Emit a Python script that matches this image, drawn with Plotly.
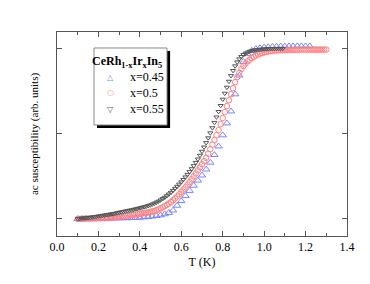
import plotly.graph_objects as go

# x = 0.55 (black, down triangles)
T_055 = [0.10,0.11,0.12,0.13,0.14,0.15,0.16,0.17,0.18,0.19,
         0.20,0.21,0.22,0.23,0.24,0.25,0.26,0.27,0.28,0.29,
         0.30,0.31,0.32,0.33,0.34,0.35,0.36,0.37,0.38,0.39,
         0.40,0.41,0.42,0.43,0.44,0.45,0.46,0.47,0.48,0.49,
         0.50,0.51,0.52,0.53,0.54,0.55,0.56,0.57,0.58,0.59,
         0.60,0.61,0.62,0.63,0.64,0.65,0.66,0.67,0.68,0.69,
         0.70,0.71,0.72,0.73,0.74,0.75,0.76,0.77,0.78,0.79,
         0.80,0.81,0.82,0.83,0.84,0.85,0.86,0.87,0.88,0.89,
         0.90,0.91,0.92,0.93,0.94,0.95,0.96,0.97,0.98,0.99,
         1.00,1.01,1.02,1.03,1.04,1.05,1.06,1.07,1.08,1.09]
chi_055 = [0.000,0.002,0.004,0.005,0.006,0.007,0.008,0.010,0.012,0.014,
           0.016,0.018,0.020,0.022,0.024,0.026,0.028,0.030,0.032,0.035,
           0.038,0.040,0.043,0.045,0.047,0.050,0.052,0.055,0.058,0.061,
           0.064,0.067,0.070,0.073,0.077,0.081,0.086,0.091,0.097,0.103,
           0.110,0.118,0.126,0.135,0.145,0.155,0.166,0.178,0.190,0.203,
           0.216,0.230,0.245,0.260,0.276,0.293,0.311,0.330,0.350,0.372,
           0.395,0.420,0.446,0.474,0.503,0.533,0.564,0.596,0.628,0.663,
           0.700,0.735,0.770,0.805,0.838,0.868,0.895,0.918,0.936,0.950,
           0.961,0.969,0.975,0.980,0.984,0.987,0.989,0.991,0.992,0.993,
           0.994,0.995,0.995,0.996,0.996,0.996,0.997,0.997,0.997,0.997]

# x = 0.5 (red circles)
T_050 = [0.10,0.11,0.12,0.13,0.14,0.15,0.16,0.17,0.18,0.19,
         0.20,0.21,0.22,0.23,0.24,0.25,0.26,0.27,0.28,0.29,
         0.30,0.31,0.32,0.33,0.34,0.35,0.36,0.37,0.38,0.39,
         0.40,0.41,0.42,0.43,0.44,0.45,0.46,0.47,0.48,0.49,
         0.50,0.51,0.52,0.53,0.54,0.55,0.56,0.57,0.58,0.59,
         0.60,0.61,0.62,0.63,0.64,0.65,0.66,0.67,0.68,0.69,
         0.70,0.71,0.72,0.73,0.74,0.75,0.76,0.77,0.78,0.79,
         0.80,0.81,0.82,0.83,0.84,0.85,0.86,0.87,0.88,0.89,
         0.90,0.91,0.92,0.93,0.94,0.95,0.96,0.97,0.98,0.99,
         1.00,1.01,1.02,1.03,1.04,1.05,1.06,1.07,1.08,1.09,
         1.10,1.11,1.12,1.13,1.14,1.15,1.16,1.17,1.18,1.19,
         1.20,1.21,1.22,1.23,1.24,1.25,1.26,1.27,1.28,1.29,1.30]
chi_050 = [0.000,0.000,0.001,0.001,0.002,0.002,0.002,0.003,0.003,0.003,
           0.004,0.004,0.005,0.005,0.006,0.007,0.008,0.009,0.010,0.011,
           0.013,0.014,0.015,0.017,0.018,0.020,0.022,0.024,0.026,0.028,
           0.030,0.032,0.034,0.036,0.038,0.041,0.044,0.047,0.051,0.056,
           0.062,0.068,0.075,0.082,0.090,0.099,0.109,0.120,0.132,0.145,
           0.158,0.172,0.186,0.201,0.216,0.232,0.249,0.266,0.284,0.302,
           0.320,0.338,0.358,0.382,0.408,0.435,0.462,0.490,0.520,0.555,
           0.590,0.625,0.660,0.695,0.730,0.765,0.800,0.830,0.855,0.877,
           0.895,0.910,0.922,0.932,0.941,0.949,0.956,0.962,0.967,0.971,
           0.975,0.978,0.980,0.982,0.984,0.985,0.986,0.987,0.988,0.988,
           0.989,0.989,0.990,0.990,0.990,0.990,0.990,0.991,0.991,0.991,
           0.991,0.991,0.991,0.991,0.991,0.991,0.991,0.991,0.991,0.991,0.991]

# x = 0.45 (blue up triangles)
T_045 = [0.10,0.12,0.14,0.16,0.18,0.20,0.22,0.24,0.26,0.28,
         0.30,0.32,0.34,0.36,0.38,0.40,0.42,0.44,0.46,0.48,
         0.50,0.52,0.54,0.56,0.58,0.60,0.62,0.64,0.66,0.68,
         0.70,0.72,0.74,0.76,0.78,0.80,0.82,0.84,0.86,0.88,
         0.90,0.92,0.94,0.96,0.98,1.00,1.02,1.04,1.06,1.08,
         1.10,1.12,1.14,1.16,1.18,1.20,1.22]
chi_045 = [0.000,0.000,0.001,0.001,0.001,0.002,0.002,0.003,0.003,0.004,
           0.004,0.005,0.005,0.006,0.007,0.008,0.010,0.012,0.015,0.018,
           0.022,0.028,0.036,0.050,0.078,0.105,0.135,0.165,0.195,0.225,
           0.255,0.290,0.330,0.375,0.425,0.490,0.560,0.630,0.730,0.840,
           0.920,0.965,0.985,0.995,1.000,1.004,1.006,1.008,1.009,1.010,
           1.010,1.011,1.011,1.011,1.011,1.011,1.011]

series_names = ["x=0.45", "x=0.5", "x=0.55"]
series_colors = ["#7585ff", "#ff8080", "#555555"]
series_glyphs = ["\u25B3", "\u25CB", "\u25BD"]
legend_title = "<b>CeRh<sub>1-x</sub>Ir<sub>x</sub>In<sub>5</sub></b>"
x_ticks = [0.0, 0.2, 0.4, 0.6, 0.8, 1.0, 1.2, 1.4]
y_ticks = [0, 0.5, 1]

FONT = "Liberation Serif, Times New Roman, serif"

fig = go.Figure()
fig.add_trace(go.Scatter(x=T_045, y=chi_045, mode="markers", name=series_names[0],
                         marker=dict(symbol="triangle-up-open", size=6.5, color=series_colors[0],
                                     line=dict(width=1))))
fig.add_trace(go.Scatter(x=T_050, y=chi_050, mode="markers", name=series_names[1],
                         marker=dict(symbol="circle-open", size=5.5, color=series_colors[1],
                                     line=dict(width=1))))
fig.add_trace(go.Scatter(x=T_055, y=chi_055, mode="markers", name=series_names[2],
                         marker=dict(symbol="triangle-down-open", size=4.5, color=series_colors[2],
                                     line=dict(width=1))))

axis_common = dict(showline=True, linecolor="#555555", linewidth=1, mirror="ticks",
                   ticks="inside", tickcolor="#555555", showgrid=False, zeroline=False,
                   automargin=False)

fig.update_layout(
    width=362, height=276,
    margin=dict(l=49, r=23, t=24, b=48),
    paper_bgcolor="white", plot_bgcolor="white",
    font=dict(family=FONT, size=12, color="black"),
    xaxis=dict(range=[0, 1.4], tickvals=x_ticks, tickformat=".1f", ticklen=5,
               minor=dict(dtick=0.1, ticks="inside", ticklen=3, tickcolor="#555555"),
               title=dict(text="T (K)", standoff=4, font=dict(size=12)),
               tickfont=dict(size=12), **axis_common),
    yaxis=dict(range=[-0.1, 1.094], tickvals=y_ticks, showticklabels=False, ticklen=5,
               title=dict(text="ac susceptibility (arb. units)", standoff=15,
                          font=dict(size=11)),
               **axis_common),
    showlegend=False,
)

# legend box with drop shadow (paper coordinates)
fig.add_shape(type="rect", xref="paper", yref="paper",
              x0=0.138, x1=0.390, y0=0.529, y1=0.907,
              fillcolor="black", line=dict(width=0), layer="above")
fig.add_shape(type="rect", xref="paper", yref="paper",
              x0=0.1276, x1=0.3793, y0=0.5441, y1=0.9216,
              fillcolor="white", line=dict(width=1, color="#888888"), layer="above")

fig.add_annotation(xref="paper", yref="paper", x=0.243, y=0.853,
                   text=legend_title, showarrow=False, xanchor="center", yanchor="middle",
                   font=dict(size=12, family=FONT, color="black"))
entry_y = [0.779, 0.701, 0.6225]
for name, color, glyph, yy in zip(series_names, series_colors, series_glyphs, entry_y):
    fig.add_annotation(xref="paper", yref="paper", x=0.1828, y=yy, text=glyph,
                       showarrow=False, xanchor="center", yanchor="middle",
                       font=dict(size=8, family="DejaVu Sans", color=color))
    fig.add_annotation(xref="paper", yref="paper", x=0.2448, y=yy, text=name,
                       showarrow=False, xanchor="left", yanchor="middle",
                       font=dict(size=12, family=FONT, color="black"))

fig.write_html("out.html")
